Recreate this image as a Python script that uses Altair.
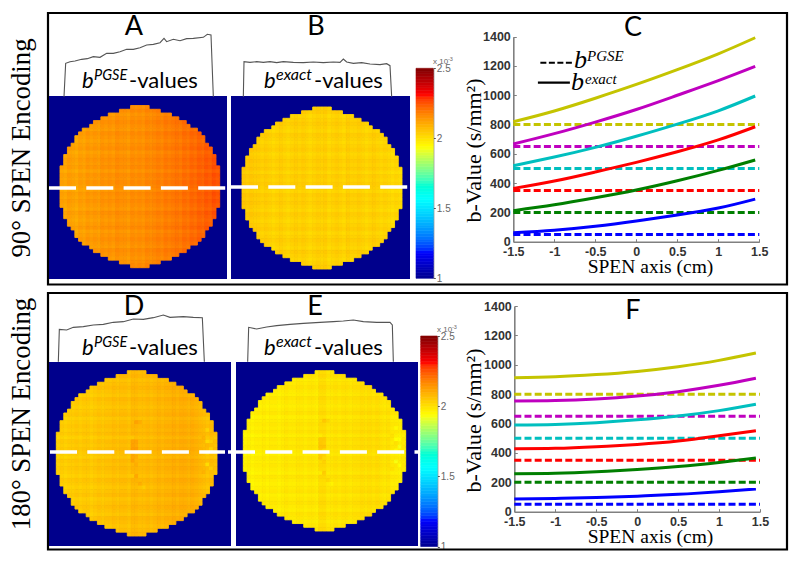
import altair as alt
import pandas as pd
import numpy as np

# ---------- line panels ----------
x_solid = [-1.5, -1, -0.5, 0, 0.5, 1, 1.45]
series = ["y", "m", "c", "r", "g", "b"]
series_colors = ["#c4c400", "#bf00bf", "#00bfbf", "#ff0000", "#007f00", "#0000ff"]
pgse_values = [800, 650, 500, 350, 200, 50]
exact_c = {
    "y": [819, 893, 980, 1074, 1175, 1283, 1393],
    "m": [667, 738, 817, 903, 1000, 1100, 1197],
    "c": [519, 578, 644, 720, 803, 894, 995],
    "r": [364, 414, 476, 542, 614, 695, 785],
    "g": [212, 252, 300, 353, 416, 487, 558],
    "b": [61, 78, 105, 141, 182, 230, 291],
}
exact_f = {
    "y": [912, 918, 933, 955, 987, 1030, 1080],
    "m": [753, 756, 767, 787, 817, 860, 908],
    "c": [590, 594, 606, 625, 651, 688, 731],
    "r": [429, 431, 442, 458, 481, 517, 551],
    "g": [259, 262, 272, 287, 307, 335, 365],
    "b": [86, 90, 97, 106, 118, 135, 154],
}
x_ticks = [-1.5, -1, -0.5, 0, 0.5, 1, 1.5]
y_ticks = [0, 200, 400, 600, 800, 1000, 1200, 1400]

# ---------- phantom maps ----------
row_half = [2, 5, 8, 10, 12, 13, 15, 16, 17, 17, 18, 19, 19, 20, 20, 20, 21, 21, 21, 21, 21, 21,
            21, 21, 21, 21, 21, 20, 20, 20, 19, 19, 18, 17, 17, 16, 15, 13, 12, 10, 8, 5, 2]
col_a = [2.12, 2.11, 2.13, 2.12, 2.11, 2.13, 2.12, 2.14, 2.13, 2.14, 2.13, 2.15, 2.14, 2.15, 2.14,
         2.16, 2.15, 2.15, 2.14, 2.16, 2.15, 2.16, 2.15, 2.17, 2.16, 2.17, 2.18, 2.17, 2.19, 2.18,
         2.19, 2.20, 2.19, 2.21, 2.20, 2.22, 2.21, 2.23, 2.22, 2.24, 2.23, 2.25, 2.24]
col_b = [2.05, 2.04, 2.05, 2.04, 2.04, 2.03, 2.04, 2.03, 2.02, 2.03, 2.04, 2.03, 2.02, 2.03, 2.04,
         2.03, 2.04, 2.03, 2.02, 2.03, 2.04, 2.03, 2.04, 2.02, 2.03, 2.04, 2.03, 2.02, 2.04, 2.03,
         2.03, 2.04, 2.03, 2.02, 2.03, 2.04, 2.03, 2.02, 2.03, 2.02, 2.01, 2.02, 2.01]
col_d = [2.03, 2.04, 2.03, 2.04, 2.04, 2.05, 2.04, 2.05, 2.05, 2.04, 2.05, 2.06, 2.05, 2.06, 2.06,
         2.07, 2.06, 2.07, 2.07, 2.06, 2.08, 2.08, 2.07, 2.07, 2.08, 2.07, 2.08, 2.09, 2.08, 2.09,
         2.09, 2.10, 2.09, 2.10, 2.10, 2.09, 2.10, 2.09, 2.08, 2.07, 2.06, 2.07, 2.06]
col_e = [1.96, 1.97, 1.96, 1.97, 1.97, 1.98, 1.97, 1.98, 1.98, 1.97, 1.98, 1.99, 1.98, 1.98, 1.99,
         1.99, 1.98, 1.99, 1.99, 1.98, 2.01, 2.01, 1.99, 1.99, 2.00, 1.99, 2.00, 2.00, 1.99, 2.00,
         2.00, 2.01, 2.00, 2.01, 2.00, 2.01, 2.00, 1.99, 2.00, 1.98, 1.98, 1.97, 1.98]
row_wobble = [0.00, 0.01, -0.01, 0.00, 0.01, 0.00, -0.01, 0.01, 0.00, -0.01, 0.00, 0.01, -0.01, 0.00,
              0.01, 0.00, 0.01, -0.01, 0.01, 0.00, 0.01, 0.00, -0.01, 0.01, 0.00, 0.01, 0.00, -0.01,
              0.01, 0.00, -0.01, 0.00, 0.01, -0.01, 0.00, 0.01, 0.00, -0.01, 0.01, 0.00, -0.01, 0.00, 0.01]
hot_spots = [(21, 13, .04), (22, 13, .03), (20, 17, -.02), (20, 18, .03), (21, 18, .03), (20, 19, .04),
             (21, 19, .03), (20, 20, .04), (21, 20, .04), (20, 21, .03), (20, 22, .04), (21, 22, .03),
             (20, 23, .03), (21, 24, .02), (21, 27, .04), (20, 27, -.02), (22, 29, .03), (23, 30, -.02),
             (40, 15, -.03), (39, 17, .03), (40, 18, -.05), (41, 18, -.04), (40, 19, .02), (41, 20, -.05),
             (40, 21, -.03), (40, 24, -.05), (41, 25, -.04), (39, 26, .02)]

# panel: name, navy box px (l, r, t, b), disc px (l, r, t, b), column profile, hot spots
panels = [
    ("A", (49, 227, 96, 279), (60, 219.7, 105.5, 267.7), col_a, []),
    ("B", (231, 410, 96, 279), (242, 402, 107, 269), col_b, []),
    ("D", (49, 231, 362, 546), (56.3, 217, 370.7, 536), col_d, hot_spots),
    ("E", (236, 418, 362, 546), (243.3, 405.7, 370.7, 531), col_e, hot_spots),
]

# ---------- measured edge profiles above the maps ----------
prof_a_x = [192, 197, 210, 225, 245, 262, 280, 300, 320, 340, 360, 380, 400, 420, 440, 460, 480, 492, 500, 520, 540, 560, 580, 610, 622, 633, 640]
prof_a_y = [290, 190, 185, 183, 178, 176, 170, 172, 160, 160, 155, 148, 148, 143, 135, 133, 128, 115, 125, 118, 122, 116, 115, 112, 103, 105, 290]
prof_b_x = [730, 732, 750, 770, 790, 810, 830, 850, 880, 910, 940, 970, 1000, 1020, 1030, 1040, 1060, 1085, 1110, 1140, 1160, 1170, 1175]
prof_b_y = [290, 185, 187, 185, 187, 185, 188, 185, 187, 188, 186, 188, 186, 187, 177, 186, 190, 188, 192, 194, 191, 197, 290]
prof_d_x = [175, 178, 200, 220, 250, 280, 310, 340, 370, 400, 430, 460, 490, 510, 550, 580, 607, 613]
prof_d_y = [1085, 988, 990, 982, 980, 975, 973, 967, 965, 957, 958, 953, 945, 952, 950, 952, 953, 1085]
prof_e_x = [743, 746, 770, 800, 830, 870, 910, 960, 1000, 1030, 1060, 1090, 1130, 1170, 1177, 1180]
prof_e_y = [1085, 982, 987, 981, 977, 973, 970, 967, 965, 963, 960, 965, 967, 967, 975, 1085]

# ---------- colour scale (jet, 1 to 2.5 x 10^-3) ----------
jet_domain = [1, 1.1875, 1.5625, 1.9375, 2.3125, 2.5]
jet_range = ["#00008f", "#0000ff", "#00ffff", "#ffff00", "#ff0000", "#800000"]
jet = alt.Scale(domain=jet_domain, range=jet_range, type="linear")

W, H = 784, 548
OFF = 8
one = pd.DataFrame({"a": [0]})
HYPHEN = "replace(datum.label, '\u2212', '-')"


def px(v):
    return v - OFF


def box(l, r, t, b, fill=None, stroke=None, sw=0):
    kw = {"strokeWidth": sw}
    if fill:
        kw["fill"] = fill
    else:
        kw["fillOpacity"] = 0
    if stroke:
        kw["stroke"] = stroke
    return alt.Chart(one).mark_rect(**kw).encode(
        x=alt.value(px(l)), x2=alt.value(px(r)), y=alt.value(px(t)), y2=alt.value(px(b)))


def label(t, x, y, size, font="Lato", style="normal", weight="normal", angle=0, align="left", color="#000000"):
    return alt.Chart(pd.DataFrame({"t": [t]})).mark_text(
        font=font, fontSize=size, fontStyle=style, fontWeight=weight, angle=angle, align=align,
        baseline="alphabetic", color=color).encode(x=alt.value(px(x)), y=alt.value(px(y)), text="t:N")


def dash(x0, x1, y):
    return alt.Chart(one).mark_rule(color="white", strokeWidth=3.6, strokeDash=[27, 10.3]).encode(
        x=alt.value(px(x0)), x2=alt.value(px(x1)), y=alt.value(px(y)))


def cells(disc, col_prof, spots):
    rows = []
    extra = {(c, r): d for c, r, d in spots}
    for r, h in enumerate(row_half):
        for c in range(21 - h, 21 + h + 1):
            rows.append({"c0": c, "c1": c + 1, "r0": r, "r1": r + 1,
                         "v": col_prof[c] + row_wobble[r] + extra.get((c, r), 0)})
    sx = alt.Scale(domain=[0, 43], range=[px(disc[0]), px(disc[1])], nice=False, zero=False)
    sy = alt.Scale(domain=[0, 43], range=[px(disc[2]), px(disc[3])], nice=False, zero=False)
    return alt.Chart(pd.DataFrame(rows)).mark_rect(strokeWidth=0.9).encode(
        x=alt.X("c0:Q", scale=sx, axis=None), x2="c1:Q",
        y=alt.Y("r0:Q", scale=sy, axis=None), y2="r1:Q",
        fill=alt.Fill("v:Q", scale=jet, legend=None),
        stroke=alt.Stroke("v:Q", scale=jet, legend=None))


def colorbar(l, r, t, b):
    edges = np.linspace(1, 2.5, 76)
    df = pd.DataFrame({"lo": edges[:-1], "hi": edges[1:], "mid": (edges[:-1] + edges[1:]) / 2, "a": 0, "z": 1})
    ax = alt.Axis(orient="right", offset=px(r) - W, values=[1, 1.5, 2, 2.5], format="~g", grid=False, title=None,
                  domain=True, domainColor="#555555", domainWidth=0.8, tickColor="#555555", tickSize=2,
                  labelFont="Liberation Sans", labelFontSize=10, labelColor="#666666", labelPadding=1,
                  labelOverlap=False, labelFlush=False)
    return alt.Chart(df).mark_rect(strokeWidth=0.6).encode(
        x=alt.X("a:Q", scale=alt.Scale(domain=[0, 1], range=[px(l), px(r)]), axis=None), x2="z:Q",
        y=alt.Y("lo:Q", scale=alt.Scale(domain=[1, 2.5], range=[px(b), px(t)], nice=False, zero=False), axis=ax), y2="hi:Q",
        fill=alt.Fill("mid:Q", scale=jet, legend=None),
        stroke=alt.Stroke("mid:Q", scale=jet, legend=None))


def line_panel(exact, xr, yr, xtitle, ytitle):
    sx = alt.Scale(domain=[-1.5, 1.5], range=[px(xr[0]), px(xr[1])], nice=False, zero=False)
    sy = alt.Scale(domain=[0, 1400], range=[px(yr[0]), px(yr[1])], nice=False, zero=False)
    sc = alt.Scale(domain=series, range=series_colors)
    base = dict(grid=False, domainColor="#808080", domainWidth=1.6, labelFont="Liberation Sans",
                labelFontWeight="bold", labelFontSize=12.5, labelColor="#333333", labelOverlap=False, labelFlush=False)
    xax = alt.Axis(orient="bottom", offset=px(yr[0]) - H, values=x_ticks, format="~g", labelExpr=HYPHEN, ticks=False,
                   labelPadding=4, title="SPEN axis (cm)", titleFont="Liberation Serif", titleFontSize=19.5,
                   titleFontWeight="normal", titleColor="#000000", titleX=px(xtitle[0]), titleY=xtitle[1],
                   titleAlign="center", titleBaseline="alphabetic", **base)
    yax = alt.Axis(orient="left", offset=-px(xr[0]), values=y_ticks, format="d", ticks=False, labelPadding=3,
                   title="b-Value (s/mm²)", titleFont="Liberation Serif", titleFontSize=22, titleFontWeight="normal",
                   titleColor="#000000", titleX=ytitle[0], titleY=px(ytitle[1]), titleAlign="center",
                   titleBaseline="alphabetic", **base)
    solid = pd.DataFrame([{"x": x, "b": v, "s": s} for s in series for x, v in zip(x_solid, exact[s])])
    dashed = pd.DataFrame([{"x": x, "b": v, "s": s} for s, v in zip(series, pgse_values) for x in (-1.5, 1.5)])
    l1 = alt.Chart(dashed).mark_line(strokeWidth=3, strokeDash=[7, 3.2]).encode(
        x=alt.X("x:Q", scale=sx, axis=xax), y=alt.Y("b:Q", scale=sy, axis=yax),
        color=alt.Color("s:N", scale=sc, legend=None), detail="s:N")
    l2 = alt.Chart(solid).mark_line(strokeWidth=3, interpolate="natural").encode(
        x=alt.X("x:Q", scale=sx, axis=None), y=alt.Y("b:Q", scale=sy, axis=None),
        color=alt.Color("s:N", scale=sc, legend=None), detail="s:N")
    # inward tick marks, MATLAB style
    tx = alt.Axis(orient="top", offset=-px(yr[0]), values=x_ticks, labels=False, domain=False, grid=False, title=None,
                  tickColor="#808080", tickSize=3)
    ty = alt.Axis(orient="right", offset=px(xr[0]) - W, values=y_ticks, labels=False, domain=False, grid=False, title=None,
                  tickColor="#808080", tickSize=3)
    l3 = alt.Chart(pd.DataFrame({"x": [-1.5], "b": [0]})).mark_point(opacity=0).encode(
        x=alt.X("x:Q", scale=sx, axis=tx), y=alt.Y("b:Q", scale=sy, axis=ty))
    return [l1, l2, l3], sx, sy


layers = []
# frames
layers += [box(48, 787, 13, 284.5, stroke="#000000", sw=2.2), box(48, 787, 293, 549.5, stroke="#000000", sw=2.2)]

# maps
for name, nb, disc, prof, spots in panels:
    layers.append(box(nb[0], nb[1], nb[2], nb[3], fill="#00008c"))
    layers.append(cells(disc, prof, spots))
layers += [dash(49, 227, 188), dash(231, 408, 187), dash(50, 225, 452), dash(228, 419, 452)]

# edge profiles
prof_df = pd.concat([
    pd.DataFrame({"x": prof_a_x, "y": prof_a_y, "p": "A", "i": range(len(prof_a_x))}),
    pd.DataFrame({"x": prof_b_x, "y": prof_b_y, "p": "B", "i": range(len(prof_b_x))}),
    pd.DataFrame({"x": prof_d_x, "y": prof_d_y, "p": "D", "i": range(len(prof_d_x))}),
    pd.DataFrame({"x": prof_e_x, "y": prof_e_y, "p": "E", "i": range(len(prof_e_x))}),
])
layers.append(alt.Chart(prof_df).mark_line(color="#555555", strokeWidth=1.1).encode(
    x=alt.X("x:Q", scale=alt.Scale(domain=[0, 2400], range=[-8, 792], nice=False, zero=False), axis=None),
    y=alt.Y("y:Q", scale=alt.Scale(domain=[0, 1692], range=[-8, 556], nice=False, zero=False), axis=None),
    detail="p:N", order="i:Q"))

# colour bars
layers.append(colorbar(416, 433.3, 68.3, 278.3))
layers.append(colorbar(420.7, 437.3, 336, 546.5))

# line panels
lc, sxc, syc = line_panel(exact_c, (513.3, 759.3), (241.7, 36.7), (650, 31), (-33, 150))
lf, sxf, syf = line_panel(exact_f, (514.3, 760), (511.7, 306), (650, 31), (-34, 420))
layers += lc + lf

# legend keys of panel C
leg_dash = pd.DataFrame({"x": [-1.17, -0.77], "b": [1222, 1222]})
leg_solid = pd.DataFrame({"x": [-1.2, -0.81], "b": [1086, 1086]})
layers.append(alt.Chart(leg_dash).mark_line(color="#000000", strokeWidth=2.2, strokeDash=[6, 2.5]).encode(
    x=alt.X("x:Q", scale=sxc, axis=None), y=alt.Y("b:Q", scale=syc, axis=None)))
layers.append(alt.Chart(leg_solid).mark_line(color="#000000", strokeWidth=2.2).encode(
    x=alt.X("x:Q", scale=sxc, axis=None), y=alt.Y("b:Q", scale=syc, axis=None)))

SERIF = "Liberation Serif"
texts = [
    ("90° SPEN Encoding", 30, 148, 26.8, SERIF, "normal", 270, "center"),
    ("180° SPEN Encoding", 30, 414, 26.8, SERIF, "normal", 270, "center"),
    ("A", 134, 35, 27, "Lato", "normal", 0, "center"),
    ("B", 316, 35, 27, "Lato", "normal", 0, "center"),
    ("C", 633, 36, 27, "Lato", "normal", 0, "center"),
    ("D", 134, 315, 27, "Lato", "normal", 0, "center"),
    ("E", 315, 315, 27, "Lato", "normal", 0, "center"),
    ("F", 633, 319, 27, "Lato", "normal", 0, "center"),
    # map captions
    ("b", 82, 88, 22, "Lato", "italic", 0, "left"),
    ("PGSE", 94, 80, 14.5, "Lato", "italic", 0, "left"),
    ("-values", 129, 88, 22, "Lato", "normal", 0, "left"),
    ("b", 264, 88, 22, "Lato", "italic", 0, "left"),
    ("exact", 276, 80, 16, "Lato", "italic", 0, "left"),
    ("-values", 314, 88, 22, "Lato", "normal", 0, "left"),
    ("b", 82, 355, 22, "Lato", "italic", 0, "left"),
    ("PGSE", 94, 347, 14.5, "Lato", "italic", 0, "left"),
    ("-values", 129, 355, 22, "Lato", "normal", 0, "left"),
    ("b", 264, 355, 22, "Lato", "italic", 0, "left"),
    ("exact", 276, 347, 16, "Lato", "italic", 0, "left"),
    ("-values", 314, 355, 22, "Lato", "normal", 0, "left"),
    # legend of panel C
    ("b", 574, 68, 26, SERIF, "italic", 0, "left"),
    ("PGSE", 587, 61, 15, SERIF, "italic", 0, "left"),
    ("b", 571, 90, 26, SERIF, "italic", 0, "left"),
    ("exact", 585, 84, 15, SERIF, "italic", 0, "left"),
]
for t, x, y, size, font, style, angle, align in texts:
    layers.append(label(t, x, y, size, font=font, style=style, angle=angle, align=align))

# colour bar exponent
for x, y in [(433, 64), (437, 332)]:
    layers.append(label("x 10", x, y, 8, font="Liberation Sans", color="#666666"))
    layers.append(label("-3", x + 15, y - 3, 5.5, font="Liberation Sans", color="#666666"))

chart = alt.layer(*layers).resolve_scale(x="independent", y="independent", color="independent",
                                         fill="independent", stroke="independent").properties(
    width=W, height=H, padding=0, autosize=alt.AutoSizeParams(type="none"), background="white"
).configure_view(stroke=None)

chart.save("out.html", embed_options={"renderer": "svg", "actions": False})
